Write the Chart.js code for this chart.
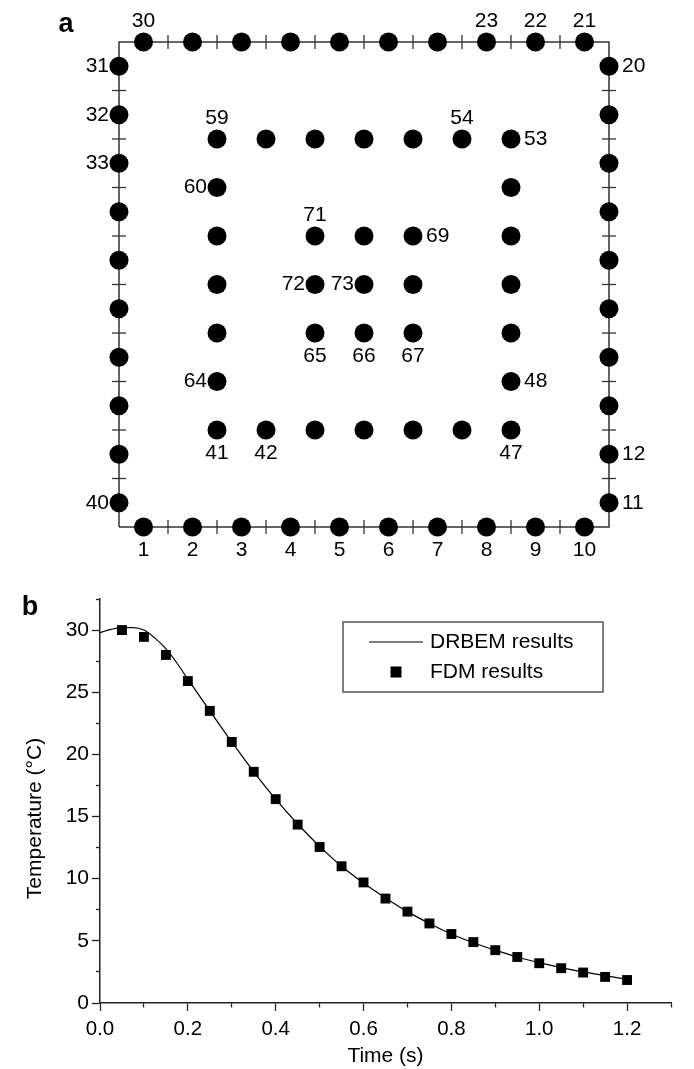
<!DOCTYPE html>
<html>
<head>
<meta charset="utf-8">
<title>DRBEM mesh and temperature history</title>
<script src="https://cdn.jsdelivr.net/npm/chart.js@4.4.1/dist/chart.umd.min.js"></script>
<style>
  html, body { margin: 0; padding: 0; background: #fff; }
  #page { position: relative; width: 694px; height: 1069px; overflow: hidden; }
  canvas { position: absolute; left: 0; }
  #mesh { top: 0; }
  #history { top: 570px; }
</style>
</head>
<body>
<div id="page">
  <canvas id="mesh" width="694" height="570"></canvas>
  <canvas id="history" width="694" height="499"></canvas>
</div>
<script>
"use strict";

// ---------- Data: panel a (square domain, 10 x 10 units) ----------
const squareCorners = [[0, 0], [10, 0], [10, 10], [0, 10], [0, 0]];
const elementMidpoints = [0.5, 1.5, 2.5, 3.5, 4.5, 5.5, 6.5, 7.5, 8.5, 9.5];
const elementJoints = [1, 2, 3, 4, 5, 6, 7, 8, 9];

// nodes 41-73
const interiorNodes = [
  [2, 2], [3, 2], [4, 2], [5, 2], [6, 2], [7, 2], [8, 2],
  [8, 3], [8, 4], [8, 5], [8, 6], [8, 7], [8, 8],
  [7, 8], [6, 8], [5, 8], [4, 8], [3, 8], [2, 8],
  [2, 7], [2, 6], [2, 5], [2, 4], [2, 3],
  [4, 4], [5, 4], [6, 4], [6, 5], [6, 6], [5, 6], [4, 6], [4, 5], [5, 5],
];

const labelledNodes = [
  [1, "below"], [2, "below"], [3, "below"], [4, "below"], [5, "below"],
  [6, "below"], [7, "below"], [8, "below"], [9, "below"], [10, "below"],
  [11, "right"], [12, "right"], [20, "right"],
  [21, "above"], [22, "above"], [23, "above"], [30, "above"],
  [31, "left"], [32, "left"], [33, "left"], [40, "left"],
  [41, "below"], [42, "below"], [47, "below"], [48, "right"], [53, "right"],
  [54, "above"], [59, "above"], [60, "left"], [64, "left"],
  [65, "below"], [66, "below"], [67, "below"], [69, "right"],
  [71, "above"], [72, "left"], [73, "left"],
];

// ---------- Data: panel b ----------
const drbemTime = [0, 0.025, 0.05, 0.075, 0.1, 0.125, 0.15, 0.175, 0.2, 0.25, 0.3, 0.35, 0.4, 0.45,
  0.5, 0.55, 0.6, 0.65, 0.7, 0.75, 0.8, 0.85, 0.9, 0.95, 1.0, 1.05, 1.1, 1.15, 1.2];
const drbemTemp = [29.8, 30.05, 30.2, 30.2, 30.0, 29.35, 28.5, 27.35, 26.05, 23.5, 21.0, 18.6, 16.4, 14.4,
  12.6, 11.0, 9.65, 8.45, 7.35, 6.4, 5.55, 4.85, 4.25, 3.7, 3.25, 2.85, 2.5, 2.2, 1.9];

const fdmTime = [0.05, 0.1, 0.15, 0.2, 0.25, 0.3, 0.35, 0.4, 0.45, 0.5, 0.55, 0.6,
  0.65, 0.7, 0.75, 0.8, 0.85, 0.9, 0.95, 1.0, 1.05, 1.1, 1.15, 1.2];
const fdmTemp = [30.0, 29.45, 28.0, 25.9, 23.5, 21.0, 18.6, 16.4, 14.35, 12.55, 11.0, 9.7,
  8.4, 7.35, 6.4, 5.55, 4.9, 4.25, 3.7, 3.2, 2.8, 2.45, 2.1, 1.85];

const xTickValues = [0, 0.2, 0.4, 0.6, 0.8, 1.0, 1.2];
const xTickLabels = ["0.0", "0.2", "0.4", "0.6", "0.8", "1.0", "1.2"];
const yTickValues = [0, 5, 10, 15, 20, 25, 30];
const yTickLabels = ["0", "5", "10", "15", "20", "25", "30"];

// ---------- Helpers ----------
const FONT = "'Liberation Sans', Arial, Helvetica, sans-serif";
Chart.defaults.font.family = FONT;
Chart.defaults.color = "#000";

const boundaryNodes = [
  ...elementMidpoints.map((c) => [c, 0]),        // 1-10 bottom
  ...elementMidpoints.map((c) => [10, c]),       // 11-20 right
  ...elementMidpoints.map((c) => [10 - c, 10]),  // 21-30 top
  ...elementMidpoints.map((c) => [0, 10 - c]),   // 31-40 left
];
const allNodes = boundaryNodes.concat(interiorNodes);

const jointMarks = [
  ...elementJoints.map((j) => ({ x: j, y: 0 })),
  ...elementJoints.map((j) => ({ x: j, y: 10 })),
  ...elementJoints.map((j) => ({ x: 0, y: j })),
  ...elementJoints.map((j) => ({ x: 10, y: j })),
];

function labelFor(values, labels, v) {
  const i = values.findIndex((t) => Math.abs(t - v) < 1e-6);
  return i < 0 ? "" : labels[i];
}

// ---------- Panel a ----------
const nodeLabelPlugin = {
  id: "nodeLabels",
  afterDatasetsDraw(chart) {
    const { ctx, scales: { x, y } } = chart;
    ctx.save();
    ctx.fillStyle = "#000";
    ctx.font = `21px ${FONT}`;
    ctx.textBaseline = "middle";
    labelledNodes.forEach(([n, side]) => {
      const [nx, ny] = allNodes[n - 1];
      const px = x.getPixelForValue(nx);
      const py = y.getPixelForValue(ny);
      const text = String(n);
      if (side === "below") { ctx.textAlign = "center"; ctx.fillText(text, px, py + 23); }
      else if (side === "above") { ctx.textAlign = "center"; ctx.fillText(text, px, py - 21); }
      else if (side === "left") { ctx.textAlign = "right"; ctx.fillText(text, px - 10, py); }
      else { ctx.textAlign = "left"; ctx.fillText(text, px + 13, py); }
    });
    ctx.font = `bold 27px ${FONT}`;
    ctx.textAlign = "center";
    ctx.fillText("a", 66, 25);
    ctx.restore();
  },
};

new Chart(document.getElementById("mesh"), {
  type: "scatter",
  data: {
    datasets: [
      {
        label: "Nodes",
        data: allNodes.map(([x, y]) => ({ x, y })),
        pointRadius: 9.5,
        backgroundColor: "#000",
        borderWidth: 0,
        clip: false,
      },
      {
        label: "Element ends",
        data: jointMarks,
        pointStyle: "line",
        pointRadius: 7,
        pointRotation: (c) => (c.raw && (c.raw.y === 0 || c.raw.y === 10) ? 90 : 0),
        borderColor: "#333",
        borderWidth: 1.3,
        clip: false,
      },
      {
        label: "Boundary",
        data: squareCorners.map(([x, y]) => ({ x, y })),
        showLine: true,
        pointRadius: 0,
        borderColor: "#333",
        borderWidth: 1.5,
        clip: false,
      },
    ],
  },
  options: {
    responsive: false,
    animation: false,
    events: [],
    layout: { padding: { left: 119, right: 85, top: 42, bottom: 43 } },
    plugins: { legend: { display: false }, tooltip: { enabled: false } },
    scales: {
      x: { type: "linear", min: 0, max: 10, display: false },
      y: { type: "linear", min: 0, max: 10, display: false },
    },
  },
  plugins: [nodeLabelPlugin],
});

// ---------- Panel b ----------
const boxLegendPlugin = {
  id: "boxLegend",
  afterDraw(chart) {
    const { ctx, chartArea } = chart;
    const [fdm, drbem] = chart.data.datasets;
    const left = chartArea.right - 328;
    const top = chartArea.top + 23;
    ctx.save();
    ctx.strokeStyle = "#555";
    ctx.lineWidth = 1.5;
    ctx.strokeRect(left, top, 260, 70);
    ctx.strokeStyle = "#000";
    ctx.lineWidth = 1.2;
    ctx.beginPath();
    ctx.moveTo(left + 26, top + 20);
    ctx.lineTo(left + 80, top + 20);
    ctx.stroke();
    ctx.fillStyle = "#000";
    ctx.fillRect(left + 53 - 5.5, top + 50 - 5.5, 11, 11);
    ctx.font = `21px ${FONT}`;
    ctx.textBaseline = "middle";
    ctx.textAlign = "left";
    ctx.fillText(drbem.label, left + 87, top + 20);
    ctx.fillText(fdm.label, left + 87, top + 50);
    ctx.font = `bold 27px ${FONT}`;
    ctx.textAlign = "center";
    ctx.fillText("b", 30, 38);
    ctx.restore();
  },
};

const isMajorX = (v) => labelFor(xTickValues, xTickLabels, v) !== "";
const isMajorY = (v) => labelFor(yTickValues, yTickLabels, v) !== "";

new Chart(document.getElementById("history"), {
  type: "scatter",
  data: {
    datasets: [
      {
        label: "FDM results",
        data: fdmTime.map((t, i) => ({ x: t, y: fdmTemp[i] })),
        pointStyle: "rect",
        pointRadius: 7,
        backgroundColor: "#000",
        borderWidth: 0,
      },
      {
        label: "DRBEM results",
        data: drbemTime.map((t, i) => ({ x: t, y: drbemTemp[i] })),
        showLine: true,
        pointRadius: 0,
        borderColor: "#000",
        borderWidth: 1.2,
        cubicInterpolationMode: "monotone",
      },
    ],
  },
  options: {
    responsive: false,
    animation: false,
    events: [],
    layout: { padding: { left: 0, right: 23, top: 29, bottom: 0 } },
    plugins: { legend: { display: false }, tooltip: { enabled: false } },
    scales: {
      x: {
        type: "linear",
        min: 0,
        max: 1.3,
        afterFit: (s) => { s.height = 66; },
        border: { color: "#222", width: 1.5 },
        grid: {
          drawOnChartArea: false,
          tickLength: 8,
          tickColor: "#222",
          tickWidth: 1.3,
          tickBorderDash: (c) => (c.tick && isMajorX(c.tick.value) ? [] : [4, 8]),
        },
        ticks: {
          stepSize: 0.1,
          autoSkip: false,
          maxRotation: 0,
          padding: 6,
          color: "#000",
          font: { size: 20.5 },
          callback: (v) => labelFor(xTickValues, xTickLabels, v),
        },
        title: { display: true, text: "Time (s)", color: "#000", font: { size: 21 }, padding: 0 },
      },
      y: {
        type: "linear",
        min: 0,
        max: 32.5,
        afterFit: (s) => { s.width = 100; },
        border: { color: "#222", width: 1.5 },
        grid: {
          drawOnChartArea: false,
          tickLength: 8,
          tickColor: "#222",
          tickWidth: 1.3,
          tickBorderDash: (c) => (c.tick && isMajorY(c.tick.value) ? [] : [4, 4]),
          tickBorderDashOffset: (c) => (c.tick && isMajorY(c.tick.value) ? 0 : 4),
        },
        ticks: {
          stepSize: 2.5,
          autoSkip: false,
          padding: 3,
          color: "#000",
          font: { size: 21 },
          callback: (v) => labelFor(yTickValues, yTickLabels, v),
        },
        // trailing no-break spaces nudge the centred title down to where the original sits
        title: { display: true, text: "Temperature (°C)\u00a0\u00a0\u00a0\u00a0\u00a0\u00a0", color: "#000", font: { size: 21 }, padding: { top: 23, bottom: 0 } },
      },
    },
  },
  plugins: [boxLegendPlugin],
});
</script>
</body>
</html>
